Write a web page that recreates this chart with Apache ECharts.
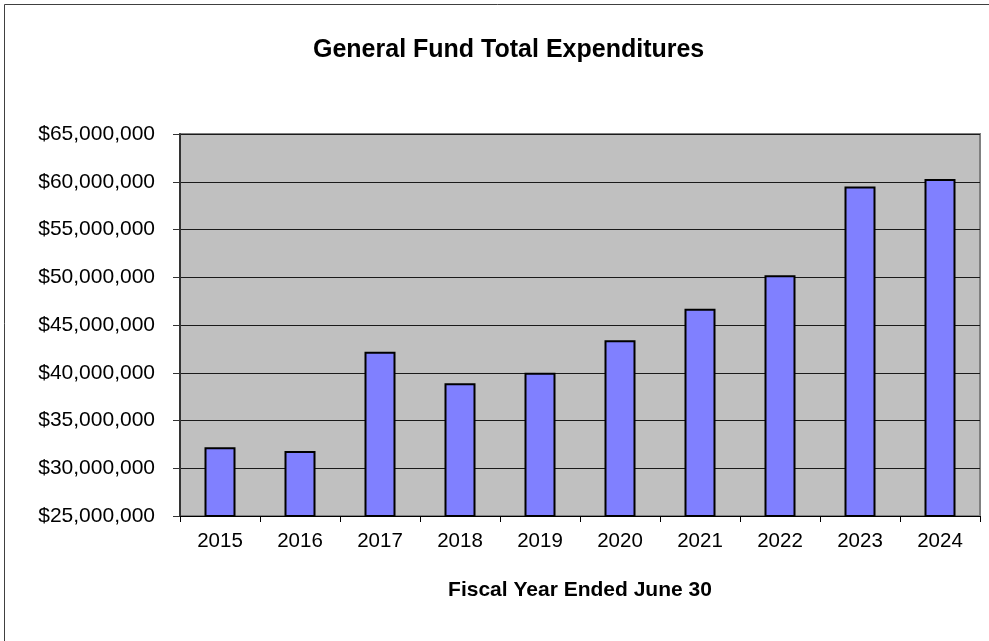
<!DOCTYPE html>
<html>
<head>
<meta charset="utf-8">
<title>General Fund Total Expenditures</title>
<script src="https://cdn.jsdelivr.net/npm/echarts@6/dist/echarts.min.js"></script>
<style>
  html, body { margin: 0; padding: 0; background: #ffffff; }
  #chart { width: 989px; height: 641px; }
</style>
</head>
<body>
<div id="chart"></div>
<script>
// Fiscal years (ended June 30) and General Fund total expenditures in dollars
const fiscalYears = ['2015', '2016', '2017', '2018', '2019', '2020', '2021', '2022', '2023', '2024'];
const totalExpenditures = [32200000, 31800000, 42200000, 38900000, 40000000, 43400000, 46700000, 50200000, 59500000, 60300000];

// Value axis range and step
const axisMin = 25000000;
const axisMax = 65000000;
const axisStep = 5000000;

const fontFamily = '"Liberation Sans", Arial, Helvetica, sans-serif';

function dollars(v) {
  return '$' + Math.round(v).toString().replace(/\B(?=(\d{3})+(?!\d))/g, ',');
}

const chart = echarts.init(document.getElementById('chart'), null, { renderer: 'canvas' });

chart.setOption({
  backgroundColor: '#ffffff',
  animation: false,
  title: {
    text: 'General Fund Total Expenditures',
    left: 308,
    top: 33,
    textStyle: { fontFamily: fontFamily, fontSize: 25, fontWeight: 'bold', color: '#000000' }
  },
  graphic: [{
    type: 'rect',
    shape: { x: 4.5, y: 4.5, width: 1000, height: 700 },
    style: { fill: null, stroke: '#404040', lineWidth: 1 },
    silent: true
  }],
  grid: {
    left: 180,
    right: 9,
    top: 134,
    bottom: 125,
    show: true,
    backgroundColor: '#C0C0C0',
    borderColor: '#808080',
    borderWidth: 2
  },
  xAxis: {
    type: 'category',
    data: fiscalYears,
    boundaryGap: true,
    name: 'Fiscal Year Ended June 30',
    nameLocation: 'middle',
    nameGap: 64,
    nameTextStyle: { fontFamily: fontFamily, fontSize: 21, fontWeight: 'bold', color: '#000000' },
    axisLine: { show: true, lineStyle: { color: '#000000', width: 1 } },
    axisTick: { show: true, alignWithLabel: false, length: 6, inside: false, lineStyle: { color: '#000000' } },
    axisLabel: { margin: 15, fontFamily: fontFamily, fontSize: 20.5, color: '#000000' },
    splitLine: { show: false }
  },
  yAxis: {
    type: 'value',
    min: axisMin,
    max: axisMax,
    interval: axisStep,
    axisLine: { show: true, lineStyle: { color: '#333333', width: 2 } },
    axisTick: { show: true, length: 7, inside: false, lineStyle: { color: '#333333' } },
    axisLabel: {
      margin: 25,
      fontFamily: fontFamily,
      fontSize: 21,
      color: '#000000',
      formatter: dollars
    },
    splitLine: { show: true, lineStyle: { color: '#1a1a1a', width: 1 } }
  },
  series: [{
    type: 'bar',
    data: totalExpenditures,
    barWidth: 31,
    itemStyle: { color: '#8080FF', borderColor: '#000000', borderWidth: 2 },
    emphasis: { disabled: true }
  }]
});
</script>
</body>
</html>
